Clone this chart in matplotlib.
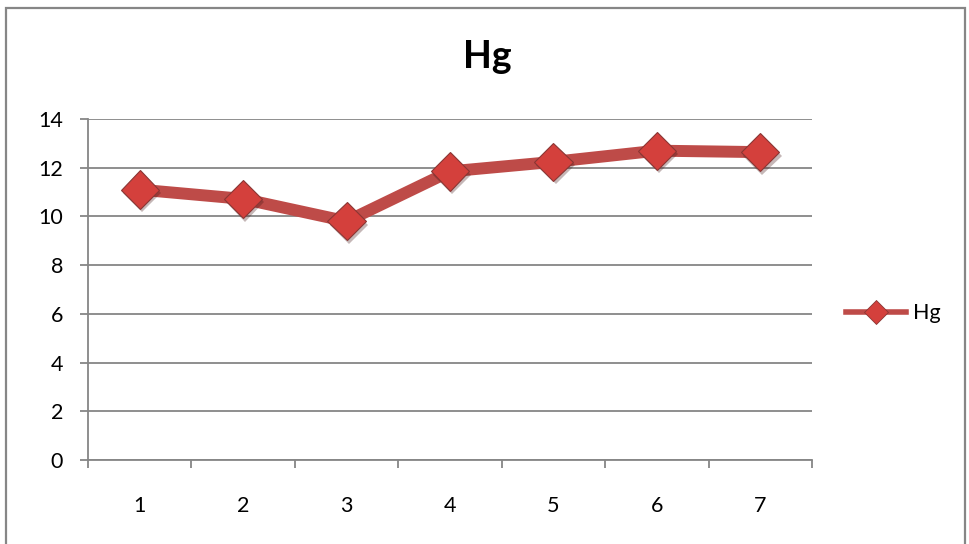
import matplotlib
matplotlib.use("Agg")
import matplotlib.pyplot as plt
import matplotlib.patheffects as pe
from matplotlib.patches import Rectangle
from matplotlib.lines import Line2D

# Data
categories = [1, 2, 3, 4, 5, 6, 7]
hg_values = [11.1, 10.72, 9.8, 11.85, 12.24, 12.7, 12.64]
y_ticks = [0, 2, 4, 6, 8, 10, 12, 14]
series_name = "Hg"
title_text = "Hg"

plt.rcParams['font.family'] = ['Lato', 'DejaVu Sans']

W, H = 970, 544
fig = plt.figure(figsize=(W / 100, H / 100), dpi=100)
fig.patch.set_facecolor("white")

# Outer chart frame
fig.patches.append(Rectangle((6.5 / W, -0.05), 959 / W, 1.05 - 7.5 / H,
                             transform=fig.transFigure, fill=False,
                             edgecolor="#868686", linewidth=1.6, zorder=0))

ax = fig.add_axes([88 / W, (H - 460) / H, 724 / W, 341 / H])

line_color = "#BE4B48"
marker_face = "#D4403C"
marker_edge = "#8A3634"

# Series line
ax.plot(categories, hg_values, color=line_color, linewidth=8.6,
        solid_capstyle="butt", solid_joinstyle="round", zorder=3)

# Diamond markers with a soft drop shadow
ax.plot(categories, hg_values, linestyle="none", zorder=4,
        marker="D", markersize=19.5, markerfacecolor=marker_face,
        markeredgecolor=marker_edge, markeredgewidth=0.8,
        path_effects=[pe.SimplePatchShadow(offset=(1.5, -2.5), alpha=0.3),
                      pe.Normal()])

ax.set_xlim(0.5, 7.5)
ax.set_ylim(0, 14)
ax.set_yticks(y_ticks)
ax.set_xticks(categories)
ax.set_xticks([c + 0.5 for c in [0] + categories], minor=True)

ax.grid(axis="y", color="#868686", linewidth=1.3)
ax.set_axisbelow(True)

for s in ["top", "right"]:
    ax.spines[s].set_visible(False)
for s in ["left", "bottom"]:
    ax.spines[s].set_color("#868686")
    ax.spines[s].set_linewidth(1.3)

ax.tick_params(axis="y", which="major", length=6, width=1.3, color="#868686",
               pad=12, labelsize=15.5)
ax.tick_params(axis="x", which="major", length=0, pad=26, labelsize=15.5)
ax.tick_params(axis="x", which="minor", length=6, width=1.3, color="#868686")

fig.text(487 / W, 1 - 57 / H, title_text, ha="center", va="center",
         fontsize=27, fontweight="bold")

legend_handle = Line2D([], [], color=line_color, linewidth=4.0,
                       marker="D", markersize=12, markerfacecolor=marker_face,
                       markeredgecolor=marker_edge, markeredgewidth=0.6)
ax.legend([legend_handle], [series_name], loc="center left",
          bbox_to_anchor=(1.02, 0.43), frameon=False, fontsize=15.5,
          handlelength=2.8, handletextpad=0.3)

fig.savefig("out.png", dpi=100, facecolor="white")
